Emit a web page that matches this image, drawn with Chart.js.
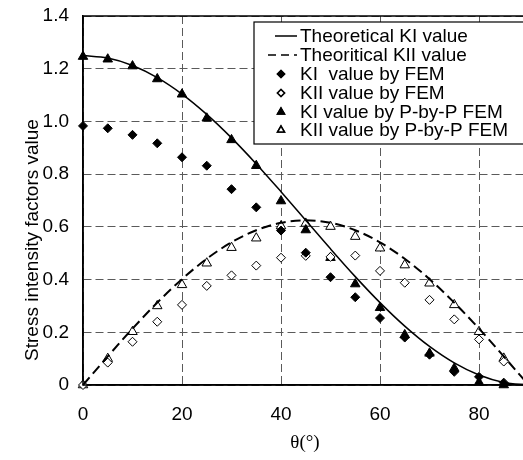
<!DOCTYPE html>
<html>
<head>
<meta charset="utf-8">
<script src="https://cdn.jsdelivr.net/npm/chart.js@4/dist/chart.umd.min.js"></script>
<style>
  html, body { margin: 0; padding: 0; background: #fff; overflow: hidden; }
  #wrap { width: 540px; height: 460px; }
</style>
</head>
<body>
<div id="wrap"><canvas id="sifChart" width="540" height="460"></canvas></div>
<script>
// ---- data ----
const thetaTheory = [0, 5, 10, 15, 20, 25, 30, 35, 40, 45, 50, 55, 60, 65, 70, 75, 80, 85, 90];
const kiTheory  = [1.25, 1.2405, 1.2123, 1.1663, 1.1038, 1.0267, 0.9375, 0.8388, 0.7335, 0.625, 0.5165, 0.4112, 0.3125, 0.2233, 0.1462, 0.0837, 0.0377, 0.0095, 0];
const kiiTheory = [0, 0.1085, 0.2138, 0.3125, 0.4017, 0.4788, 0.5413, 0.5873, 0.6155, 0.625, 0.6155, 0.5873, 0.5413, 0.4788, 0.4017, 0.3125, 0.2138, 0.1085, 0];

const thetaFem = [0, 5, 10, 15, 20, 25, 30, 35, 40, 45, 50, 55, 60, 65, 70, 75, 80, 85];
const kiFem    = [0.983, 0.974, 0.949, 0.917, 0.864, 0.832, 0.743, 0.674, 0.586, 0.502, 0.409, 0.333, 0.254, 0.180, 0.115, 0.050, 0.031, 0.009];
const kiiFem   = [0, 0.085, 0.164, 0.240, 0.304, 0.376, 0.416, 0.453, 0.483, 0.490, 0.486, 0.491, 0.433, 0.388, 0.323, 0.249, 0.173, 0.089];
const kiPbp    = [1.246, 1.236, 1.210, 1.161, 1.103, 1.012, 0.930, 0.832, 0.698, 0.588, 0.483, 0.383, 0.293, 0.190, 0.120, 0.063, 0.010, 0];
const kiiPbp   = [0, 0.100, 0.202, 0.300, 0.380, 0.462, 0.521, 0.557, 0.603, 0.613, 0.601, 0.563, 0.519, 0.455, 0.386, 0.304, 0.202, 0.101];

const yTicks = [0, 0.2, 0.4, 0.6, 0.8, 1, 1.2, 1.4];
const xTicks = [0, 20, 40, 60, 80];

const legendLabels = [
    'Theoretical KI value',
    'Theoritical KII value',
    'KI  value by FEM',
    'KII value by FEM',
    'KI value by P-by-P FEM',
    'KII value by P-by-P FEM'
];

const FONT = '"Liberation Sans", Arial, sans-serif';
const pts = (xs, ys) => xs.map((x, i) => ({ x: x, y: ys[i] }));

// legend box drawn inside the plot, Excel style
const boxLegend = {
    id: 'boxLegend',
    afterDraw(chart) {
        const ctx = chart.ctx;
        const area = chart.chartArea;
        ctx.save();
        // plot border
        ctx.strokeStyle = '#000';
        ctx.lineWidth = 1.5;
        ctx.setLineDash([]);
        ctx.strokeRect(area.left, area.top, area.right - area.left, area.bottom - area.top);

        // legend
        const bx = 254, by = 22, bw = 300, bh = 122;
        ctx.fillStyle = '#fff';
        ctx.fillRect(bx, by, bw, bh);
        ctx.lineWidth = 1.2;
        ctx.strokeRect(bx, by, bw, bh);
        ctx.font = '19px ' + FONT;
        ctx.textBaseline = 'middle';
        const rowY = [36, 55, 74, 93, 112, 130];
        chart.data.datasets.forEach((ds, i) => {
            const y = rowY[i];
            ctx.strokeStyle = '#000';
            ctx.fillStyle = '#000';
            if (i < 2) {
                ctx.lineWidth = 1.5;
                ctx.setLineDash(i === 0 ? [] : [8, 5]);
                ctx.beginPath();
                ctx.moveTo(i === 0 ? 275 : 268, y);
                ctx.lineTo(297, y);
                ctx.stroke();
                ctx.setLineDash([]);
            } else {
                Chart.helpers.drawPoint(ctx, {
                    pointStyle: ds.pointStyle,
                    radius: ds.pointStyle === 'triangle' ? 4 : 3.5,
                    rotation: 0,
                    borderWidth: 1
                }, 281, y);
                ctx.fillStyle = ds.backgroundColor;
                ctx.fill();
                ctx.stroke();
            }
            ctx.fillStyle = '#000';
            ctx.fillText(legendLabels[i], 300, y + 1);
        });

        // axis titles
        ctx.fillStyle = '#000';
        ctx.textAlign = 'center';
        ctx.font = '19px ' + FONT;
        ctx.save();
        ctx.translate(33, 240);
        ctx.rotate(-Math.PI / 2);
        ctx.fillText('Stress intensity factors value', 0, 0);
        ctx.restore();
        ctx.font = '19px "Liberation Serif", "Times New Roman", serif';
        ctx.fillText('\u03b8(\u00b0)', 305, 443);
        ctx.restore();
    }
};

const gridStyle = {
    color: '#5a5a5a',
    lineWidth: 1,
    drawTicks: false
};

new Chart(document.getElementById('sifChart'), {
    type: 'scatter',
    data: {
        datasets: [
            {
                label: legendLabels[0], data: pts(thetaTheory, kiTheory), showLine: true,
                borderColor: '#000', borderWidth: 1.5, pointRadius: 0, cubicInterpolationMode: 'monotone', clip: false
            },
            {
                label: legendLabels[1], data: pts(thetaTheory, kiiTheory), showLine: true,
                borderColor: '#000', borderWidth: 2, borderDash: [10, 5], pointRadius: 0, cubicInterpolationMode: 'monotone', clip: false
            },
            {
                label: legendLabels[2], data: pts(thetaFem, kiFem), pointStyle: 'rectRot', pointRadius: 4.5,
                backgroundColor: '#000', borderColor: '#000', borderWidth: 1, clip: false
            },
            {
                label: legendLabels[3], data: pts(thetaFem, kiiFem), pointStyle: 'rectRot', pointRadius: 4.5,
                backgroundColor: '#fff', borderColor: '#000', borderWidth: 1, clip: false
            },
            {
                label: legendLabels[4], data: pts(thetaFem, kiPbp), pointStyle: 'triangle', pointRadius: 5.5,
                backgroundColor: '#000', borderColor: '#000', borderWidth: 1, clip: false
            },
            {
                label: legendLabels[5], data: pts(thetaFem, kiiPbp), pointStyle: 'triangle', pointRadius: 5.5,
                backgroundColor: '#fff', borderColor: '#000', borderWidth: 1, clip: false
            }
        ]
    },
    options: {
        responsive: false,
        animation: false,
        layout: { padding: { left: 0, top: 16, right: 11.5, bottom: 0 } },
        plugins: { legend: { display: false }, tooltip: { enabled: false } },
        scales: {
            x: {
                type: 'linear', min: 0, max: 90,
                afterBuildTicks: s => { s.ticks = xTicks.map(v => ({ value: v })); },
                afterFit: s => { s.height = 75; s.paddingLeft = 0; s.paddingRight = 0; },
                grid: gridStyle,
                border: { display: true, color: '#000', width: 1.5, dash: [8, 4] },
                ticks: { color: '#000', font: { family: FONT, size: 19 }, padding: 18, maxRotation: 0 }
            },
            y: {
                type: 'linear', min: 0, max: 1.4,
                afterBuildTicks: s => { s.ticks = yTicks.map(v => ({ value: v })); },
                afterFit: s => { s.width = 83; s.paddingTop = 0; s.paddingBottom = 0; },
                grid: gridStyle,
                border: { display: true, color: '#000', width: 1.5, dash: [8, 4] },
                ticks: { color: '#000', font: { family: FONT, size: 19 }, padding: 14 }
            }
        }
    },
    plugins: [boxLegend]
});
</script>
</body>
</html>
